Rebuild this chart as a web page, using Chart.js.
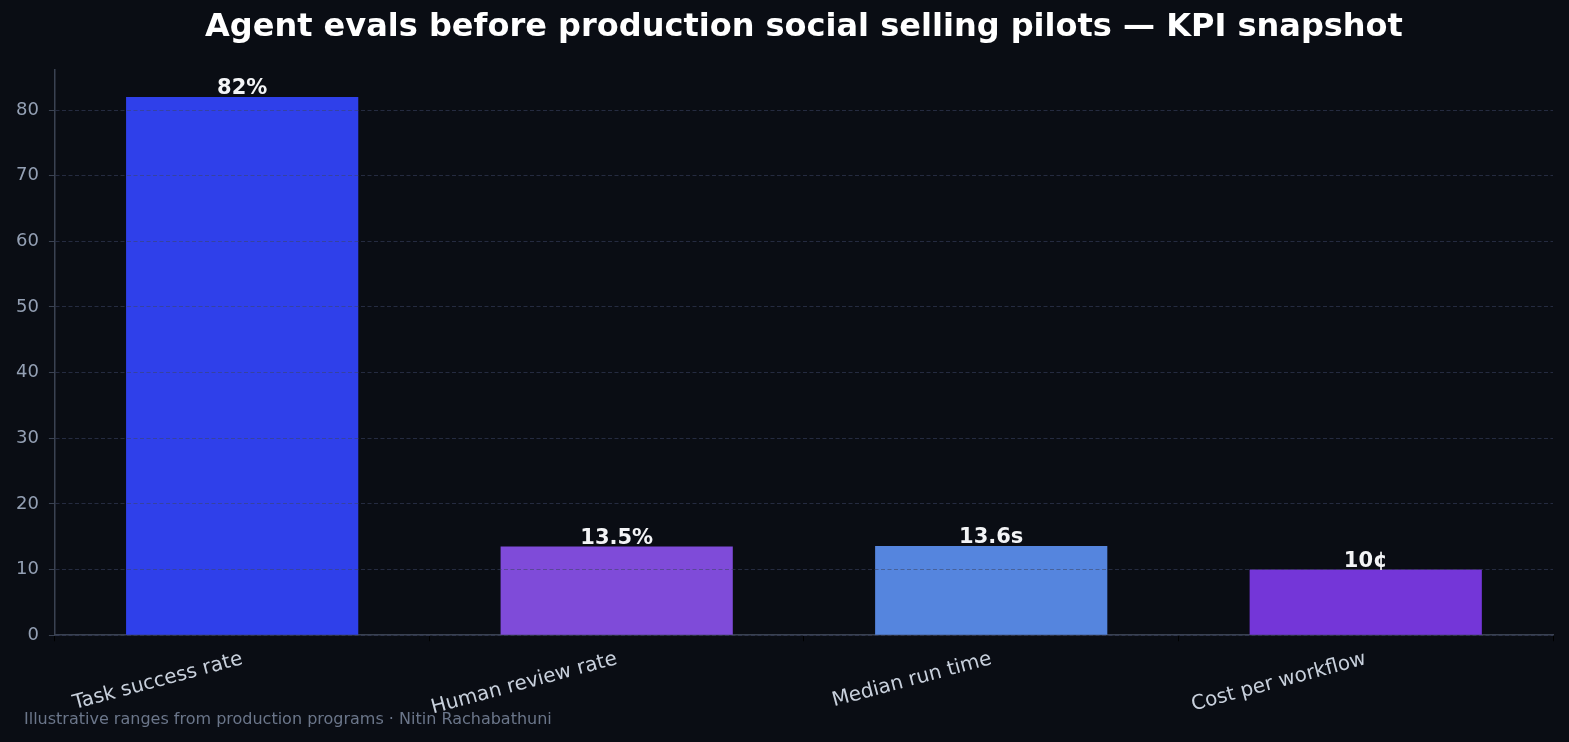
<!DOCTYPE html>
<html>
<head>
<meta charset="utf-8">
<script src="https://cdn.jsdelivr.net/npm/chart.js@4.4.1/dist/chart.umd.min.js"></script>
<style>
  html, body { margin: 0; padding: 0; background: #0a0d14; }
  #wrap { width: 1569px; height: 742px; position: relative; }
</style>
</head>
<body>
<div id="wrap"><canvas id="kpi-chart"></canvas></div>
<script>
const categories = ['Task success rate', 'Human review rate', 'Median run time', 'Cost per workflow'];
const values = [82, 13.5, 13.6, 10];
const valueLabels = ['82%', '13.5%', '13.6s', '10¢'];
const barColors = ['#2f40ea', '#7f4bd9', '#5585de', '#7436d8'];
const yTicks = [0, 10, 20, 30, 40, 50, 60, 70, 80];

const titleText = 'Agent evals before production social selling pilots — KPI snapshot';
const footerText = 'Illustrative ranges from production programs · Nitin Rachabathuni';

const FONT = '"DejaVu Sans", sans-serif';

// title over the plot area, footer in the bottom-left corner, value labels on bars
const textPlugin = {
    id: 'textPlugin',
    afterDraw(chart) {
        const ctx = chart.ctx;
        const area = chart.chartArea;
        ctx.save();

        ctx.font = 'bold 32px ' + FONT;
        ctx.fillStyle = '#ffffff';
        ctx.textAlign = 'center';
        ctx.textBaseline = 'middle';
        ctx.fillText(titleText, (area.left + area.right) / 2, 28);

        ctx.font = '16px ' + FONT;
        ctx.fillStyle = '#6b768a';
        ctx.textAlign = 'left';
        ctx.fillText(footerText, 24, 720);

        ctx.font = 'bold 21px ' + FONT;
        ctx.fillStyle = '#f3f4f6';
        ctx.textAlign = 'center';
        ctx.textBaseline = 'alphabetic';
        const meta = chart.getDatasetMeta(0);
        meta.data.forEach((bar, i) => {
            ctx.fillText(valueLabels[i], bar.x, bar.y - 3);
        });

        ctx.restore();
    }
};

const ctx = document.getElementById('kpi-chart').getContext('2d');

new Chart(ctx, {
    type: 'bar',
    data: {
        labels: categories,
        datasets: [{
            data: values,
            backgroundColor: barColors,
            borderWidth: 0,
            categoryPercentage: 1,
            barPercentage: 0.62
        }]
    },
    options: {
        responsive: true,
        maintainAspectRatio: false,
        animation: false,
        layout: {
            padding: { top: 70, right: 16, bottom: 16, left: 6 }
        },
        scales: {
            x: {
                grid: {
                    display: true,
                    drawOnChartArea: false,
                    tickLength: 6,
                    tickColor: '#000000'
                },
                border: {
                    color: '#3a4252',
                    width: 1.5
                },
                ticks: {
                    color: '#c8d0dc',
                    font: { family: FONT, size: 20 },
                    minRotation: 15,
                    maxRotation: 15,
                    padding: 6
                }
            },
            y: {
                min: 0,
                max: Math.max(...values) * 1.05,
                afterBuildTicks(scale) {
                    scale.ticks = yTicks.map(v => ({ value: v }));
                },
                grid: {
                    z: 1,
                    color: 'rgba(60, 70, 100, 0.55)',
                    lineWidth: 1,
                    tickLength: 6,
                    tickColor: '#3a4252',
                    tickBorderDash: []
                },
                border: {
                    z: 1,
                    color: '#3a4252',
                    width: 1.5,
                    dash: [4, 2.5]
                },
                ticks: {
                    color: '#94a0b4',
                    font: { family: FONT, size: 18 },
                    padding: 10
                }
            }
        },
        plugins: {
            legend: { display: false },
            tooltip: { enabled: false }
        }
    },
    plugins: [textPlugin]
});
</script>
</body>
</html>
